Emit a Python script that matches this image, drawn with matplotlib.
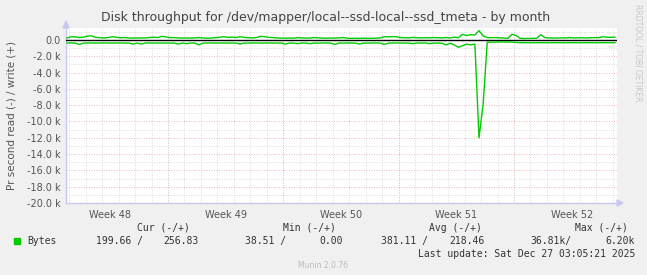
import matplotlib
matplotlib.use("Agg")
import numpy as np
import matplotlib.pyplot as plt
from matplotlib.patches import Rectangle
from matplotlib.ticker import FixedLocator, MultipleLocator, FuncFormatter

# ---------------- data ----------------
# sample times in days relative to Mon Dec 1 00:00 (6 h steps)
START_DAY = -6.125
STEP_DAY = 0.25

# write (+) bytes per second
write_bps = [
    250, 400, 380, 300, 350, 480, 500, 320, 280, 250,
    300, 400, 330, 280, 300, 250, 240, 250, 260, 250,
    300, 350, 300, 450, 380, 280, 300, 250, 240, 250,
    240, 260, 300, 250, 230, 240, 280, 330, 400, 330,
    350, 300, 400, 320, 280, 260, 300, 450, 400, 320,
    300, 250, 230, 220, 240, 220, 300, 250, 230, 240,
    300, 260, 230, 220, 250, 230, 260, 300, 220, 200,
    210, 200, 220, 200, 210, 220, 250, 400, 380, 420,
    380, 300, 280, 260, 320, 280, 260, 280, 270, 300,
    280, 260, 300, 250, 350, 280, 700, 550, 650, 620,
    1150, 500, 300, 280, 300, 260, 250, 200, 700, 550,
    200, 180, 200, 200, 220, 650, 300, 250, 240, 250,
    260, 250, 300, 250, 260, 280, 250, 270, 300, 280,
    400, 350, 330, 350,
]

# read (-) bytes per second, drawn below zero
read_bps = [
    370, 360, 380, 550, 380, 370, 360, 380, 370, 360,
    370, 380, 370, 360, 380, 370, 500, 380, 500, 370,
    360, 380, 370, 380, 370, 380, 370, 500, 380, 450,
    370, 380, 600, 380, 370, 360, 380, 370, 370, 380,
    370, 380, 500, 370, 380, 370, 360, 380, 370, 360,
    380, 370, 360, 500, 370, 380, 450, 370, 380, 450,
    370, 380, 370, 360, 380, 550, 370, 380, 360, 370,
    380, 500, 370, 380, 370, 360, 380, 550, 380, 370,
    360, 380, 370, 380, 450, 370, 380, 360, 450, 380,
    370, 400, 600, 400, 600, 900, 700, 500, 600, 500,
    12000, 7900, 280, 250, 260, 250, 240, 260, 250, 300,
    330, 330, 340, 330, 330, 340, 330, 320, 330, 340,
    330, 330, 340, 330, 330, 320, 330, 340, 330, 330,
    330, 340, 330, 330,
]

week_labels = ["Week 48", "Week 49", "Week 50", "Week 51", "Week 52"]
week_starts = [-7, 0, 7, 14, 21]   # Mondays, days from Dec 1

legend_label = "Bytes"
cur_vals = ("199.66", "256.83")
min_vals = ("38.51", "0.00")
avg_vals = ("381.11", "218.46")
max_vals = ("36.81k", "6.20k")
last_update = "Last update: Sat Dec 27 03:05:21 2025"

TITLE = "Disk throughput for /dev/mapper/local--ssd-local--ssd_tmeta - by month"
YLABEL = "Pr second read (-) / write (+)"

# ---------------- layout ----------------
W, H = 647, 275
BG = "#F0F0F0"
GREEN = "#00CC00"
TXT = "#555555"
MONO = "DejaVu Sans Mono"


def fx(x):
    return x / W


def fy(y):
    return 1 - y / H


fig = plt.figure(figsize=(W / 100, H / 100), dpi=100, facecolor=BG)
ax = fig.add_axes([fx(66), fy(203), fx(617) - fx(66), fy(28) - fy(203)])
ax.set_facecolor("white")

days = START_DAY + STEP_DAY * np.arange(len(write_bps))
ax.axhline(0, color="black", lw=1.0, zorder=3)
ax.plot(days, write_bps, color=GREEN, lw=1.0, zorder=4)
ax.plot(days, -np.array(read_bps), color=GREEN, lw=1.0, zorder=4)

ax.set_xlim(-6.19, 27.25)
ax.set_ylim(-20000, 1472)

# y grid: 1k gray, 2k red
ax.yaxis.set_major_locator(MultipleLocator(2000))
ax.yaxis.set_minor_locator(MultipleLocator(1000))
ax.yaxis.set_major_formatter(FuncFormatter(
    lambda v, _: "0.0" if v == 0 else f"{v / 1000:.1f} k"))
ax.grid(which="minor", axis="both", color="#CFCFCF", lw=0.6, ls=(0, (1, 2)))
ax.grid(which="major", axis="y", color="#E8A0A0", lw=0.6, ls=(0, (1, 2)))

# x: day grid, week boundaries red, labels centred on weeks
ax.xaxis.set_minor_locator(MultipleLocator(1))
ax.xaxis.set_major_locator(FixedLocator([s + 3.5 for s in week_starts]))
ax.set_xticklabels(week_labels)
for s in week_starts:
    ax.axvline(s, color="#E8A0A0", lw=0.6, ls=(0, (1, 2)), zorder=1)

ax.tick_params(which="both", length=0, labelsize=7, colors=TXT, pad=4)
ax.tick_params(axis="x", pad=5)

for side in ("top", "right"):
    ax.spines[side].set_visible(False)
for side in ("left", "bottom"):
    ax.spines[side].set_color("#C8C8EE")
    ax.spines[side].set_linewidth(1.0)

# axis arrows
fig.patches.append(plt.Polygon([[fx(63), fy(28)], [fx(69), fy(28)], [fx(66), fy(21)]],
                               closed=True, color="#C8C8EE", transform=fig.transFigure))
fig.patches.append(plt.Polygon([[fx(617), fy(200)], [fx(617), fy(206)], [fx(623), fy(203)]],
                               closed=True, color="#C8C8EE", transform=fig.transFigure))

fig.text(fx(326), fy(17), TITLE, ha="center", va="center", fontsize=9, color="#444444")
fig.text(fx(12), fy(115), YLABEL, ha="center", va="center", rotation=90,
         fontsize=7.5, color=TXT)
fig.text(fx(638), fy(4), "RRDTOOL / TOBI OETIKER", ha="center", va="top",
         rotation=270, fontsize=5.5, color="#C8C8C8")

# legend block
fig.patches.append(Rectangle((fx(14), fy(244)), fx(6), fy(238) - fy(244),
                             color=GREEN, transform=fig.transFigure))
kw = dict(fontsize=7, family=MONO, color="#333333", va="center")
fig.text(fx(27), fy(241), legend_label, ha="left", **kw)
for head, right in (("Cur (-/+)", 190), ("Min (-/+)", 336), ("Avg (-/+)", 482), ("Max (-/+)", 628)):
    fig.text(fx(right), fy(228), head, ha="right", **kw)
for vals, left, right in ((cur_vals, 96, 199), (min_vals, 245, 343),
                          (avg_vals, 381, 485), (max_vals, 530, 635)):
    sep = " /" if not vals[0].endswith("k") else "/"
    fig.text(fx(left), fy(241), vals[0] + sep, ha="left", **kw)
    fig.text(fx(right), fy(241), vals[1], ha="right", **kw)
fig.text(fx(635), fy(254), last_update, ha="right", **kw)
fig.text(fx(323), fy(266), "Munin 2.0.76", ha="center", va="center",
         fontsize=5.5, color="#BBBBBB")

fig.savefig("out.png", dpi=100, facecolor=BG)
